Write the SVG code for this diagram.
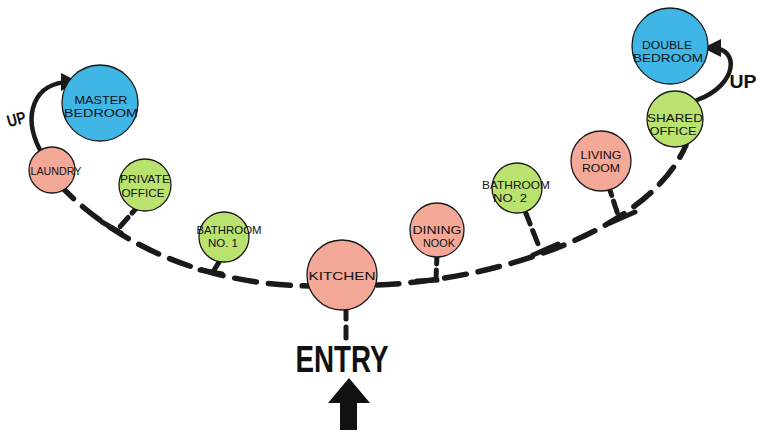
<svg xmlns="http://www.w3.org/2000/svg" width="764" height="437" viewBox="0 0 764 437">
<defs>
<style>
.node{stroke:#1a1a1a;stroke-width:1.3}
.blue{fill:#3fb6e6}
.pink{fill:#f4a898}
.green{fill:#b9e26f}
.lbl{font-family:"Liberation Sans",Arial,sans-serif;font-size:11px;fill:#111;text-anchor:middle}
.path{fill:none;stroke:#1a1a1a;stroke-width:5.5;stroke-dasharray:22 12;stroke-linecap:round}
.stub{fill:none;stroke:#1a1a1a;stroke-width:5;stroke-linecap:round}
.up{fill:none;stroke:#1a1a1a;stroke-width:4.5;stroke-linecap:round}
.bold{font-family:"Liberation Sans",Arial,sans-serif;font-weight:bold;fill:#111;text-anchor:middle}
</style>
<marker id="ah" viewBox="0 0 10 10" refX="5" refY="5" markerWidth="4" markerHeight="4" orient="auto" markerUnits="strokeWidth">
<path d="M0,0 L10,5 L0,10 z" fill="#1a1a1a"/>
</marker>
</defs>
<rect width="764" height="437" fill="#ffffff"/>

<g id="connectors">
<path class="path" d="M58 183 C110 240 200 285 310 286"/>
<path class="path" d="M377 285 C500 280 650 230 686 145"/>
<path class="stub" d="M140 204 L118 229" stroke-dasharray="12 6"/>
<path class="stub" d="M102 222 L121 233"/>
<path class="stub" d="M225 252 L213 272"/>
<path class="stub" d="M200 270 L222 274"/>
<path class="stub" d="M437 254 L436 280" stroke-dasharray="10 6"/>
<path class="stub" d="M417 281 L437 280"/>
<path class="stub" d="M525 211 L540 249" stroke-dasharray="14 7"/>
<path class="stub" d="M533 255 L558 244"/>
<path class="stub" d="M608 184 L619 218" stroke-dasharray="12 6"/>
<path class="stub" d="M610 223 L635 212"/>
<path class="stub" d="M346 306 L346 338" stroke-dasharray="13 8"/>
<path class="up" d="M40 150 C22 115 34 82 70 82" marker-end="url(#ah)"/>
<path class="up" d="M697 100 C738 85 740 48 712 48" marker-end="url(#ah)"/>
<path d="M349 378 L370 403 L357 403 L357 430 L340 430 L340 403 L328 403 Z" fill="#111"/>
</g>

<g id="master-bedroom">
<circle class="node blue" cx="100" cy="103" r="38"/>
<text class="lbl" x="101" y="104" textLength="53" lengthAdjust="spacingAndGlyphs">MASTER</text>
<text class="lbl" x="101" y="117" textLength="74" lengthAdjust="spacingAndGlyphs">BEDROOM</text>
</g>
<g id="laundry">
<circle class="node pink" cx="52" cy="170" r="23"/>
<text class="lbl" x="56" y="175" textLength="51" lengthAdjust="spacingAndGlyphs">LAUNDRY</text>
</g>
<g id="private-office">
<circle class="node green" cx="145" cy="185" r="26"/>
<text class="lbl" x="145" y="183" textLength="50" lengthAdjust="spacingAndGlyphs">PRIVATE</text>
<text class="lbl" x="143" y="197" textLength="43" lengthAdjust="spacingAndGlyphs">OFFICE</text>
</g>
<g id="bathroom-1">
<circle class="node green" cx="224" cy="237" r="25"/>
<text class="lbl" x="229" y="234" textLength="65" lengthAdjust="spacingAndGlyphs">BATHROOM</text>
<text class="lbl" x="223" y="247" textLength="30" lengthAdjust="spacingAndGlyphs">NO. 1</text>
</g>
<g id="kitchen">
<circle class="node pink" cx="342" cy="275" r="35"/>
<text class="lbl" x="342" y="280" font-size="15" textLength="67" lengthAdjust="spacingAndGlyphs">KITCHEN</text>
</g>
<g id="dining-nook">
<circle class="node pink" cx="437" cy="230" r="27"/>
<text class="lbl" x="437" y="234" textLength="49" lengthAdjust="spacingAndGlyphs">DINING</text>
<text class="lbl" x="439" y="247" textLength="32" lengthAdjust="spacingAndGlyphs">NOOK</text>
</g>
<g id="bathroom-2">
<circle class="node green" cx="517" cy="188" r="25"/>
<text class="lbl" x="516" y="189" textLength="68" lengthAdjust="spacingAndGlyphs">BATHROOM</text>
<text class="lbl" x="510" y="202" textLength="34" lengthAdjust="spacingAndGlyphs">NO. 2</text>
</g>
<g id="living-room">
<circle class="node pink" cx="601" cy="161" r="30"/>
<text class="lbl" x="601" y="159" textLength="41" lengthAdjust="spacingAndGlyphs">LIVING</text>
<text class="lbl" x="601" y="172" textLength="38" lengthAdjust="spacingAndGlyphs">ROOM</text>
</g>
<g id="shared-office">
<circle class="node green" cx="675" cy="119" r="28"/>
<text class="lbl" x="675" y="122" textLength="56" lengthAdjust="spacingAndGlyphs">SHARED</text>
<text class="lbl" x="673" y="135" textLength="47" lengthAdjust="spacingAndGlyphs">OFFICE</text>
</g>
<g id="double-bedroom">
<circle class="node blue" cx="670" cy="46" r="38"/>
<text class="lbl" x="667" y="49" textLength="50" lengthAdjust="spacingAndGlyphs">DOUBLE</text>
<text class="lbl" x="668" y="62" textLength="70" lengthAdjust="spacingAndGlyphs">BEDROOM</text>
</g>

<g id="labels">
<text class="bold" x="16" y="125" font-size="17" transform="rotate(-15 16 118)" textLength="19" lengthAdjust="spacingAndGlyphs">UP</text>
<text class="bold" x="743" y="88" font-size="19" textLength="27" lengthAdjust="spacingAndGlyphs">UP</text>
<text class="bold" x="342" y="372" font-size="37" textLength="93" lengthAdjust="spacingAndGlyphs">ENTRY</text>
</g>
</svg>
